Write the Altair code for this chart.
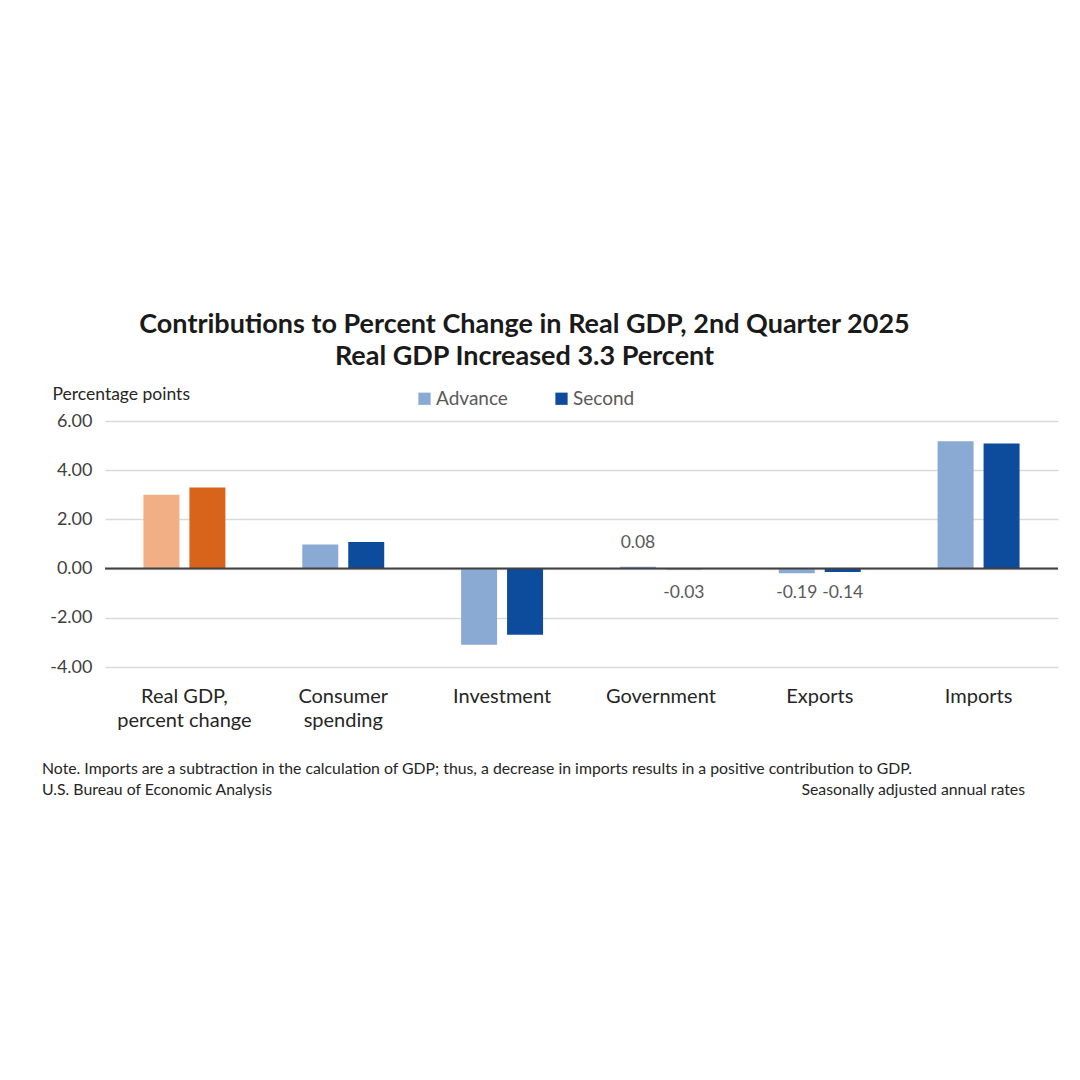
import altair as alt
import pandas as pd

# Contributions to percent change in real GDP, Q2 2025 (percentage points)
categories = ["Real GDP, percent change", "Consumer spending", "Investment",
              "Government", "Exports", "Imports"]
label_lines = [["Real GDP,", "percent change"], ["Consumer", "spending"],
               ["Investment"], ["Government"], ["Exports"], ["Imports"]]
series = ["Advance", "Second"]
advance = [3.00, 0.98, -3.10, 0.08, -0.19, 5.18]
second = [3.30, 1.08, -2.69, -0.03, -0.14, 5.09]
labelled = ["Government", "Exports"]

rows = []
for i, cat in enumerate(categories):
    for s, vals in zip(series, [advance, second]):
        key = ("GDP " + s) if i == 0 else s
        rows.append({"category": cat, "series": s, "value": vals[i], "key": key,
                     "label": f"{vals[i]:.2f}" if cat in labelled else ""})
df = pd.DataFrame(rows)

font = "Lato"
grey = "#595959"

label_expr = ""
for cat, lines in zip(categories, label_lines):
    arr = "[" + ", ".join(f"'{l}'" for l in lines) + "]"
    label_expr += f"datum.label == '{cat}' ? {arr} : "
label_expr += "datum.label"

x_enc = alt.X("category:N", sort=categories,
              scale=alt.Scale(paddingInner=0.484, paddingOuter=0.242),
              axis=alt.Axis(title=None, labelAngle=0, ticks=False, domain=False,
                            labelFont=font, labelFontSize=20, labelColor="#262626",
                            labelPadding=19, labelLineHeight=24, labelExpr=label_expr))
xo_enc = alt.XOffset("series:N", sort=series,
                     scale=alt.Scale(paddingInner=0.217, paddingOuter=0))

bars = alt.Chart(df).mark_bar().encode(
    x=x_enc,
    xOffset=xo_enc,
    y=alt.Y("value:Q", scale=alt.Scale(domain=[-4, 6], nice=False),
            axis=alt.Axis(values=[-4, -2, 0, 2, 4, 6], format=".2f", ticks=False,
                          labelExpr="replace(datum.label, '\u2212', '-')",
                          domain=False, gridColor="#d9d9d9", gridWidth=1.5,
                          labelFont=font, labelFontSize=18, labelColor="#404040",
                          labelPadding=13,
                          title="Percentage points", titleAngle=0, titleAlign="left",
                          titleBaseline="alphabetic", titleX=-53, titleY=-22,
                          titleFont=font, titleFontSize=17.5, titleFontWeight="normal",
                          titleColor="#262626")),
    color=alt.Color("key:N",
                    scale=alt.Scale(domain=["GDP Advance", "GDP Second", "Advance", "Second"],
                                    range=["#F2AE84", "#D8641C", "#8AA9D3", "#0D4B9C"]),
                    legend=alt.Legend(values=["Advance", "Second"], title=None,
                                      orient="none", direction="horizontal",
                                      legendX=310, legendY=-32,
                                      symbolType="square", symbolSize=150,
                                      symbolStrokeWidth=0, labelFont=font,
                                      labelFontSize=19, labelColor=grey,
                                      labelOffset=2, columnPadding=44)),
)

zero = alt.Chart(pd.DataFrame({"y": [0]})).mark_rule(color="#404040", strokeWidth=2).encode(
    y="y:Q")

lab_pos = alt.Chart(df).transform_filter("datum.label != '' && datum.value >= 0").mark_text(
    font=font, fontSize=17.5, color=grey, baseline="middle", dy=-24).encode(
    x=alt.X("category:N", sort=categories), xOffset=alt.XOffset("series:N", sort=series),
    y="value:Q", text="label:N")

lab_neg = alt.Chart(df).transform_filter("datum.label != '' && datum.value < 0").mark_text(
    font=font, fontSize=17.5, color=grey, baseline="middle").encode(
    x=alt.X("category:N", sort=categories), xOffset=alt.XOffset("series:N", sort=series),
    y=alt.datum(-1), text="label:N")

foot_size = 15.8
note = alt.Chart(pd.DataFrame({"t": ["Note. Imports are a subtraction in the calculation of GDP; thus, a decrease in imports results in a positive contribution to GDP."]})).mark_text(
    font=font, fontSize=foot_size, color="#262626", align="left", baseline="alphabetic").encode(
    x=alt.value(-63), y=alt.value(353), text="t:N")
source = alt.Chart(pd.DataFrame({"t": ["U.S. Bureau of Economic Analysis"]})).mark_text(
    font=font, fontSize=foot_size, color="#262626", align="left", baseline="alphabetic").encode(
    x=alt.value(-63), y=alt.value(374), text="t:N")
rates = alt.Chart(pd.DataFrame({"t": ["Seasonally adjusted annual rates"]})).mark_text(
    font=font, fontSize=foot_size, color="#262626", align="right", baseline="alphabetic").encode(
    x=alt.value(920), y=alt.value(374), text="t:N")

chart = alt.layer(bars, zero, lab_pos, lab_neg, note, source, rates).properties(
    width=953, height=246,
    autosize=alt.AutoSizeParams(type="none"),
    padding={"left": 105, "top": 421, "right": 22, "bottom": 413},
    background="white",
    title=alt.TitleParams(
        text=["Contributions to Percent Change in Real GDP, 2nd Quarter 2025",
              "Real GDP Increased 3.3 Percent"],
        anchor="middle", frame="group", dx=-57, offset=14, lineHeight=32,
        font=font, fontSize=27, fontWeight="bold", color="#1a1a1a"),
).configure_view(stroke=None)

chart.save("out.html", embed_options={"renderer": "svg", "actions": False})
